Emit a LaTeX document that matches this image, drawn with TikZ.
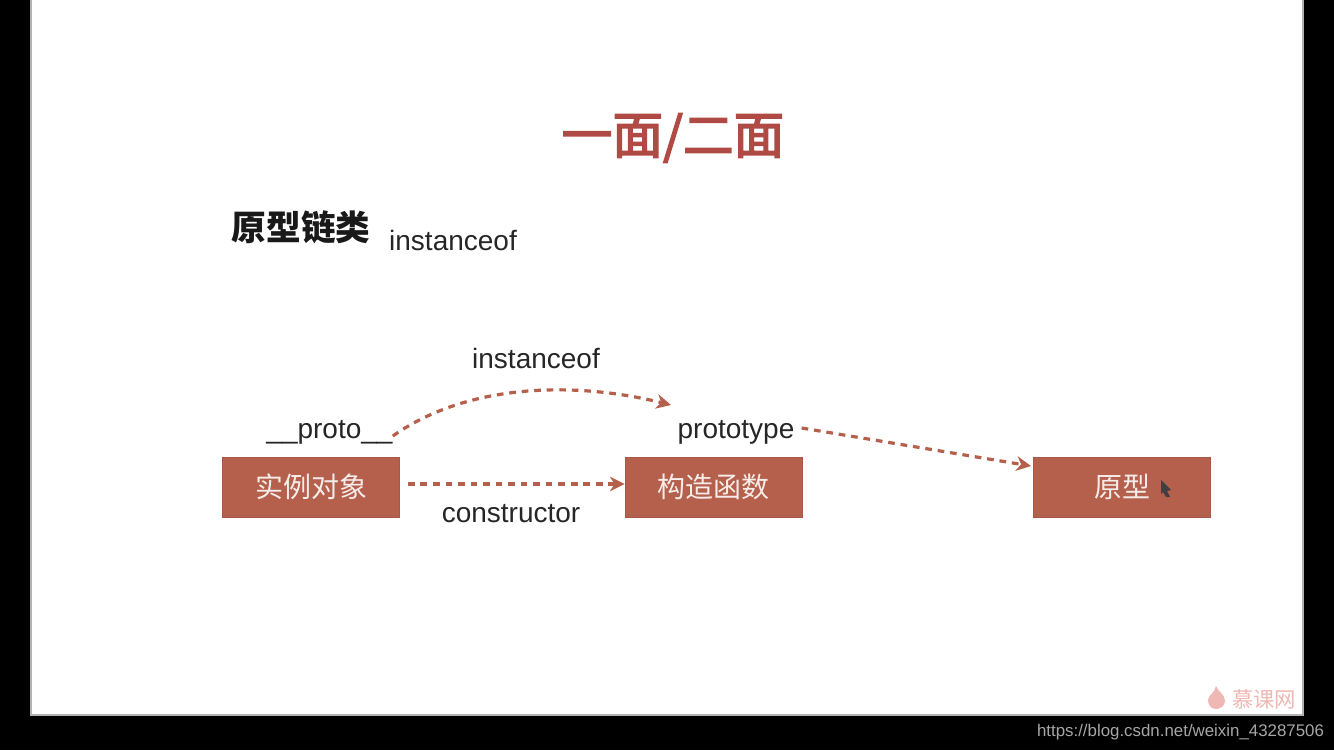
\documentclass[tikz,border=0pt]{standalone}
\usepackage{fontspec}
\setmainfont{Liberation Sans}
\newfontfamily\cjk{Noto Sans CJK SC}
\newfontfamily\cjkthick[FakeBold=3]{Noto Sans CJK SC}
\usetikzlibrary{arrows.meta}
\definecolor{boxred}{HTML}{B5604C}
\definecolor{titlered}{HTML}{B04A44}
\definecolor{markred}{HTML}{EFB8B4}
\begin{document}
\begin{tikzpicture}[
        x = 0.75pt, y = -0.75pt,
        every node/.style = {inner sep = 0pt},
        classbox/.style = {fill = boxred, draw = boxred!92!black, line width = 0.4pt, minimum width = 133pt, minimum height = 45pt, text = white!88!boxred, font = \cjk\fontsize{21}{21}\selectfont},
        word/.style = {text = black!85, font = \fontsize{21}{21}\selectfont},
        link/.style = {draw = boxred, line width = 2.4pt, dash pattern = on 5pt off 4.4pt, -{Stealth[length = 11pt, width = 11pt, inset = 3.5pt, sep = 0pt]}},
        ]
        \useasboundingbox (0, 0) rectangle (1334, 750);
        \fill[black] (0, 0) rectangle (1334, 750);
        \fill[white] (31, 0) rectangle (1303, 715);
        \draw[black!30, line width = 0.8pt] (31, 0) |- (1303, 715) -- (1303, 0);

        \node[text = titlered, font = \cjkthick\fontsize{38}{38}\selectfont] (title) at (673, 138) {一面/二面};
        \node[text = black!90, font = \cjk\bfseries\fontsize{26}{26}\selectfont] (heading) at (301, 227) {原型链类};
        \node[word] (topic) at (453, 240) {instanceof};

        \node[classbox] (instance) at (311, 487) {实例对象};
        \node[classbox] (ctor) at (713.5, 487) {构造函数};
        \node[classbox] (origin) at (1122, 487) {原型};

        \node[word] (proto) at (329.5, 432) {\_\_proto\_\_};
        \node[word] (ptype) at (736, 432) {prototype};
        \node[word] (chain) at (536, 358) {instanceof};
        \node[word] (back) at (511, 514) {constructor};

        \coordinate (chainend) at (671, 405);
        \coordinate (originend) at (1031, 466);

        \draw[link] (proto.east) ++(0, 4) .. controls (465, 385) and (570, 380) .. (chainend);
        \draw[link] ([shift = {(8, -3)}]instance.east) -- ([yshift = 2.25pt]ctor.west);
        \draw[link] ([shift = {(7, -4)}]ptype.east) -- (originend);

        % pointer on the last box
        \fill[black!75] (1161, 480) -- (1171, 490) -- (1167, 491) -- (1170, 497) -- (1166, 497) -- (1163, 492) -- (1161, 494) -- cycle;

        % watermark
        \fill[markred] (1216, 686) .. controls (1218, 692) and (1225, 694) .. (1225, 701) .. controls (1225, 706) and (1220, 709) .. (1216, 709) .. controls (1211, 709) and (1208, 705) .. (1208, 700) .. controls (1208, 695) and (1215, 693) .. (1216, 686) -- cycle;
        \node[text = markred, font = \cjk\fontsize{16}{16}\selectfont] (mark) at (1264, 699) {慕课网};

        \node[text = black!35, font = \fontsize{12.65}{12.65}\selectfont] (url) at (1180.5, 732) {https://blog.csdn.net/weixin\_43287506};
    \end{tikzpicture}
\end{document}
